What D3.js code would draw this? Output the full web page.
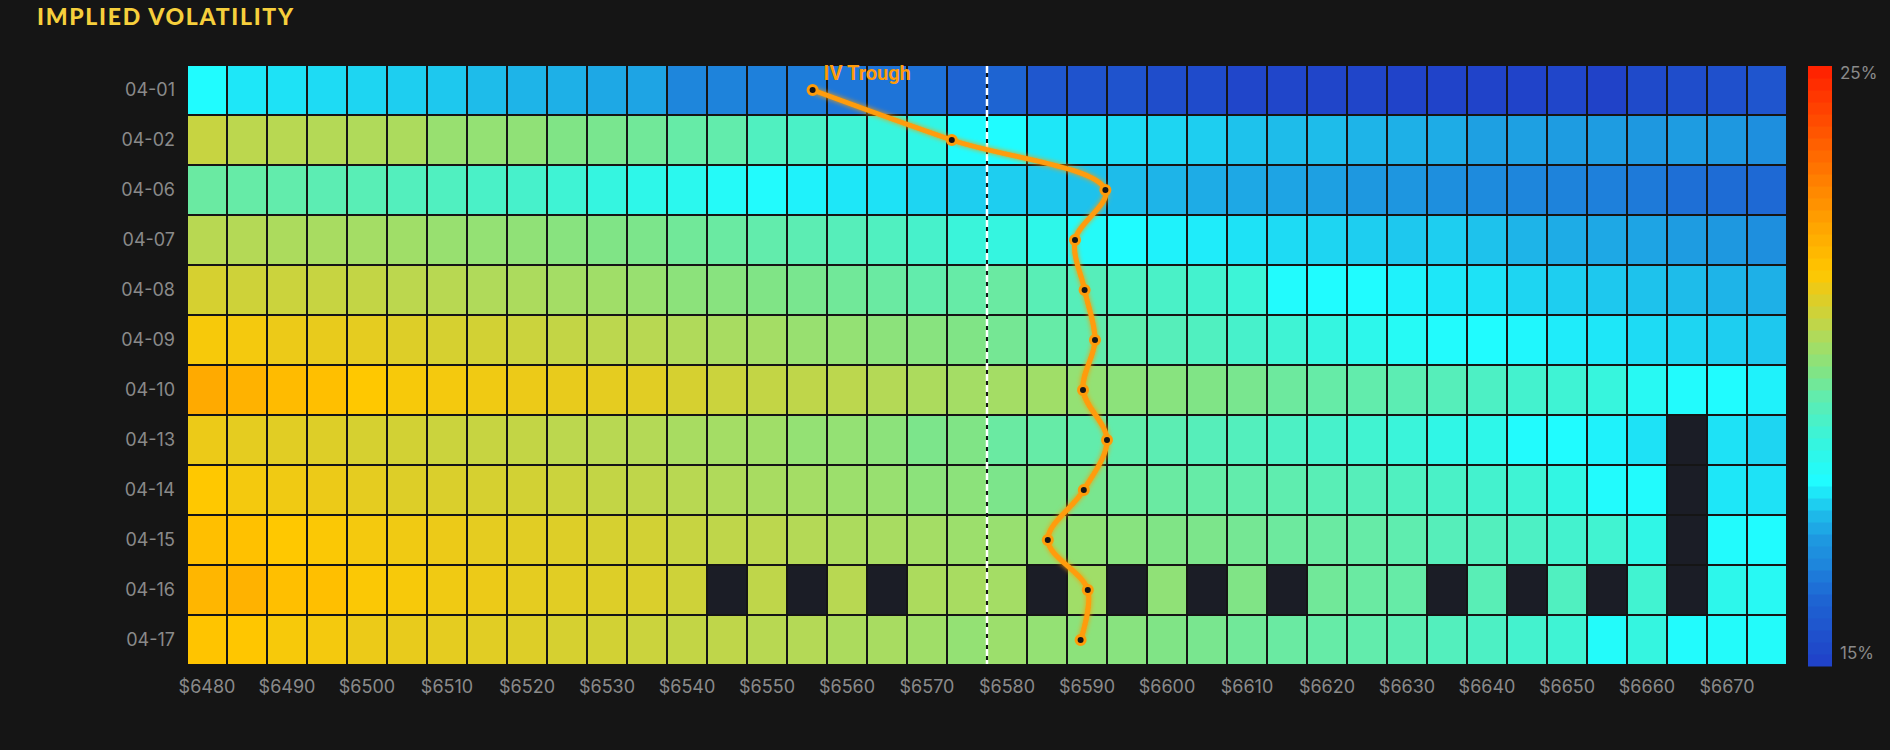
<!DOCTYPE html>
<html>
<head>
<meta charset="utf-8">
<script src="https://cdn.jsdelivr.net/npm/d3@7/dist/d3.min.js"></script>
<style>
  body { margin: 0; background: #151515; }
  svg { display: block; }
</style>
</head>
<body>
<script>
var expiries = ['04-01', '04-02', '04-06', '04-07', '04-08', '04-09', '04-10', '04-13', '04-14', '04-15', '04-16', '04-17'];

var strikes = [6480, 6485, 6490, 6495, 6500, 6505, 6510, 6515, 6520, 6525,
               6530, 6535, 6540, 6545, 6550, 6555, 6560, 6565, 6570, 6575,
               6580, 6585, 6590, 6595, 6600, 6605, 6610, 6615, 6620, 6625,
               6630, 6635, 6640, 6645, 6650, 6655, 6660, 6665, 6670, 6675];

var strikeTicks = [6480, 6490, 6500, 6510, 6520, 6530, 6540, 6550, 6560, 6570,
                   6580, 6590, 6600, 6610, 6620, 6630, 6640, 6650, 6660, 6670];

// implied vol (%) per expiry row, one value per strike; null = no quote
var iv0401 = [18.1,17.9,17.85,17.8,17.75,17.7,17.65,17.55,17.45,17.4,17.3,17.25,16.7,16.65,16.6,16.55,16.45,16.4,16.35,16.1,16.1,15.7,15.6,15.6,15.4,15.35,15.2,15.2,15.15,15.15,15.1,15.1,15.1,15.1,15.2,15.05,15.3,15.4,15.5,15.65];
var iv0402 = [20.8,20.65,20.6,20.55,20.5,20.45,20.2,20.15,20.1,19.9,19.8,19.7,19.55,19.5,19.2,19.1,18.9,18.75,18.6,18.15,18.1,17.9,17.85,17.8,17.75,17.7,17.6,17.55,17.55,17.45,17.4,17.35,17.2,17.2,17.15,17.15,17.1,17.15,17.1,16.9];
var iv0406 = [19.6,19.55,19.5,19.4,19.35,19.25,19.2,19.1,19.05,18.9,18.7,18.55,18.45,18.25,18.15,18.0,17.9,17.85,17.75,17.7,17.7,17.65,17.6,17.55,17.45,17.35,17.3,17.25,17.2,17.1,17.05,16.9,16.8,16.7,16.65,16.6,16.5,16.3,16.25,16.2];
var iv0407 = [20.6,20.55,20.45,20.4,20.35,20.3,20.2,20.15,20.1,20.0,19.9,19.85,19.7,19.6,19.5,19.4,19.3,19.2,19.05,18.8,18.7,18.55,18.25,18.1,18.0,17.95,17.85,17.8,17.75,17.7,17.65,17.7,17.6,17.45,17.35,17.3,17.25,17.15,17.1,16.9];
var iv0408 = [21.0,20.9,20.85,20.8,20.75,20.65,20.6,20.5,20.45,20.35,20.3,20.2,20.05,20.0,19.9,19.8,19.7,19.6,19.5,19.55,19.6,19.35,19.3,19.2,19.1,19.0,18.85,18.15,18.1,18.1,18.0,17.9,17.85,17.75,17.7,17.65,17.6,17.55,17.45,17.4];
var iv0409 = [21.45,21.4,21.3,21.25,21.2,21.1,21.0,20.95,20.85,20.75,20.65,20.6,20.5,20.4,20.35,20.2,20.15,20.05,20.0,19.9,19.75,19.55,19.5,19.45,19.3,19.2,19.05,18.9,18.7,18.5,18.3,18.15,18.1,18.05,17.95,17.9,17.8,17.75,17.7,17.65];
var iv0410 = [22.2,22.05,21.85,21.75,21.55,21.45,21.4,21.35,21.3,21.25,21.2,21.15,21.0,20.85,20.75,20.7,20.65,20.55,20.45,20.35,20.35,20.3,20.15,20.05,20.0,19.9,19.8,19.65,19.55,19.5,19.4,19.3,19.15,19.0,18.9,18.75,18.35,18.15,18.1,18.0];
var iv0413 = [21.3,21.2,21.15,21.1,21.0,20.95,20.85,20.8,20.75,20.65,20.6,20.55,20.4,20.35,20.3,20.15,20.15,20.05,19.85,19.9,19.6,19.55,19.5,19.5,19.4,19.3,19.25,19.15,19.05,18.95,18.8,18.6,18.55,18.15,18.1,18.0,17.85,null,17.85,17.75];
var iv0414 = [21.55,21.4,21.35,21.3,21.2,21.1,21.05,21.0,20.95,20.85,20.75,20.7,20.6,20.5,20.4,20.35,20.25,20.2,20.05,20.05,19.85,19.9,19.8,19.7,19.6,19.55,19.5,19.45,19.35,19.3,19.2,19.1,19.0,18.9,18.65,18.15,18.15,null,17.9,17.85];
var iv0415 = [21.75,21.7,21.55,21.5,21.4,21.35,21.3,21.2,21.15,21.1,21.0,20.95,20.8,20.7,20.65,20.55,20.45,20.4,20.35,20.25,20.2,20.15,20.1,20.0,19.9,19.85,19.75,19.65,19.6,19.55,19.45,19.3,19.25,19.15,19.0,18.95,18.6,null,18.15,18.1];
var iv0416 = [21.95,22.05,21.75,21.75,21.5,21.45,21.35,21.3,21.2,21.15,21.1,21.05,20.9,null,20.7,null,20.6,null,20.45,20.4,20.35,null,20.3,null,20.1,null,19.9,null,19.7,19.6,19.55,null,19.35,null,19.2,null,18.95,null,18.5,18.35];
var iv0417 = [21.65,21.6,21.45,21.4,21.3,21.25,21.2,21.15,21.1,21.0,20.95,20.85,20.75,20.7,20.6,20.55,20.45,20.4,20.3,20.15,20.25,20.15,20.05,20.0,19.9,19.8,19.7,19.6,19.55,19.5,19.4,19.25,19.15,19.0,18.9,18.2,18.7,18.15,18.2,18.2];

var ivRows = [iv0401, iv0402, iv0406, iv0407, iv0408, iv0409, iv0410, iv0413, iv0414, iv0415, iv0416, iv0417];

// strike of lowest IV per expiry
var troughStrikes = [6555.7, 6573.1, 6592.3, 6588.5, 6589.7, 6591.0, 6589.5, 6592.5, 6589.6, 6585.1, 6590.1, 6589.2];

var spotPrice = 6577.5;
var ivMin = 15;
var ivMax = 25;

var colorStops = [15, 15.5, 16.1, 16.4, 16.7, 17.1, 17.35, 17.55, 17.7, 17.85, 18.1, 18.6, 19.0, 19.5, 19.9, 20.2, 20.6, 21.0, 21.3, 21.55, 22.0, 23.0, 24.0, 25];
var colorRange = ['#2040c8', '#1f50cc', '#1e64d2', '#1e74d8', '#1e86dc', '#1e98e0', '#1eace6', '#1ebcea', '#1ecef0', '#1ee2f6',
                  '#20fcff', '#30f6e6', '#44f2ce', '#62ecac', '#80e486', '#98e070', '#b8d852', '#d6d030', '#ecca18', '#ffc800',
                  '#ffb400', '#ff8400', '#ff5000', '#ff1e00'];

var svg, x, y, color;
var width = 1890, height = 750;
var gridLeft = 188, gridRight = 1786, gridTop = 66, gridBottom = 664;

initializeChart();
drawHeatmap();
drawAxes();
drawLegend();
drawSpotLine();
drawTrough();

function initializeChart() {
    svg = d3.select('body')
            .append('svg')
              .attr('width', width)
              .attr('height', height);

    svg.append('rect')
      .attr('width', width)
      .attr('height', height)
      .attr('fill', '#151515');

    svg.append('text')
      .attr('x', 37)
      .attr('y', 25)
      .attr('font-family', 'Lato, "Open Sans", sans-serif')
      .attr('font-weight', 900)
      .attr('font-size', 23)
      .attr('letter-spacing', 1.7)
      .attr('fill', '#f6cf3c')
      .text('IMPLIED VOLATILITY');

    x = d3.scaleBand()
          .domain(strikes)
          .range([gridLeft, gridRight])
          .paddingInner(0.05)
          .paddingOuter(0);

    y = d3.scaleBand()
          .domain(expiries)
          .range([gridTop, gridBottom])
          .paddingInner(0.04)
          .paddingOuter(0);

    color = d3.scaleLinear()
              .domain(colorStops)
              .range(colorRange)
              .clamp(true);
}

function drawHeatmap() {
    var cells = [];
    ivRows.forEach(function(row, i) {
        row.forEach(function(v, j) {
            cells.push({ expiry: expiries[i], strike: strikes[j], iv: v });
        });
    });

    svg.append('g')
      .selectAll('rect')
      .data(cells)
      .enter()
      .append('rect')
        .attr('x', function(d){ return x(d.strike); })
        .attr('y', function(d){ return y(d.expiry); })
        .attr('width', x.bandwidth())
        .attr('height', y.bandwidth())
        .attr('fill', function(d){
          return d.iv === null ? '#1b1d26' : color(d.iv);
        });
}

function drawAxes() {
    var yAxis = svg.append('g')
      .attr('transform', 'translate(' + gridLeft + ',0)')
      .call(d3.axisLeft(y).tickSize(0).tickPadding(13));

    var xAxis = svg.append('g')
      .attr('transform', 'translate(0,' + gridBottom + ')')
      .call(d3.axisBottom(x)
              .tickValues(strikeTicks)
              .tickFormat(function(d){ return '$' + d; })
              .tickSize(0)
              .tickPadding(16));

    [xAxis, yAxis].forEach(function(g) {
        g.select('.domain').remove();
        g.selectAll('text')
          .attr('font-family', 'Inter, "Noto Sans", sans-serif')
          .attr('font-size', 18)
          .attr('fill', '#8a8a8a');
    });
}

function drawLegend() {
    var steps = 50;
    var legendX = 1808, legendW = 24, legendTop = 66, legendBottom = 666;
    var ly = d3.scaleLinear().domain([ivMin, ivMax]).range([legendBottom, legendTop]);
    var stepSize = (ivMax - ivMin) / steps;
    var bands = d3.range(steps).map(function(i){ return ivMin + i * stepSize; });

    svg.append('g')
      .selectAll('rect')
      .data(bands)
      .enter()
      .append('rect')
        .attr('x', legendX)
        .attr('y', function(d){ return ly(d + stepSize); })
        .attr('width', legendW)
        .attr('height', function(d){ return ly(d) - ly(d + stepSize) + 0.5; })
        .attr('fill', function(d){ return color(d + stepSize / 2); });

    svg.append('g')
      .selectAll('text')
      .data([ivMax, ivMin])
      .enter()
      .append('text')
        .attr('x', legendX + legendW + 8)
        .attr('y', function(d){ return d === ivMax ? ly(d) + 13 : ly(d) - 7; })
        .attr('font-family', 'Inter, "Noto Sans", sans-serif')
        .attr('font-size', 17)
        .attr('fill', '#8a8a8a')
        .text(function(d){ return d + '%'; });
}

function strikeX() {
    var half = x.bandwidth() / 2;
    return d3.scaleLinear()
             .domain([strikes[0], strikes[strikes.length - 1]])
             .range([x(strikes[0]) + half, x(strikes[strikes.length - 1]) + half]);
}

function drawSpotLine() {
    var sx = strikeX();
    svg.append('line')
      .attr('x1', sx(spotPrice))
      .attr('x2', sx(spotPrice))
      .attr('y1', gridTop)
      .attr('y2', gridBottom)
      .attr('stroke', '#ffffff')
      .attr('stroke-width', 2.5)
      .attr('stroke-dasharray', '7,4');
}

function drawTrough() {
    var sx = strikeX();
    var half = y.bandwidth() / 2;
    var pts = troughStrikes.map(function(s, i) {
        return [sx(s), y(expiries[i]) + half];
    });

    var defs = svg.append('defs');
    var glow = defs.append('filter')
      .attr('id', 'glow')
      .attr('x', '-50%').attr('y', '-50%')
      .attr('width', '200%').attr('height', '200%');
    glow.append('feGaussianBlur').attr('stdDeviation', 2.5).attr('result', 'blur');
    var merge = glow.append('feMerge');
    merge.append('feMergeNode').attr('in', 'blur');
    merge.append('feMergeNode').attr('in', 'SourceGraphic');

    var line = d3.line().curve(d3.curveCatmullRom);

    svg.append('path')
      .attr('d', line(pts))
      .attr('fill', 'none')
      .attr('stroke', '#ff9c0a')
      .attr('stroke-width', 5)
      .attr('filter', 'url(#glow)');

    svg.append('g')
      .selectAll('circle')
      .data(pts)
      .enter()
      .append('circle')
        .attr('cx', function(d){ return d[0]; })
        .attr('cy', function(d){ return d[1]; })
        .attr('r', 4.5)
        .attr('fill', '#151515')
        .attr('stroke', '#ff9c0a')
        .attr('stroke-width', 3);

    svg.append('text')
      .attr('x', pts[0][0] + 11)
      .attr('y', pts[0][1] - 10)
      .attr('font-family', 'Roboto, sans-serif')
      .attr('font-weight', 700)
      .attr('font-size', 20)
      .attr('fill', '#ff9c0a')
      .text('IV Trough');
}
</script>
</body>
</html>
